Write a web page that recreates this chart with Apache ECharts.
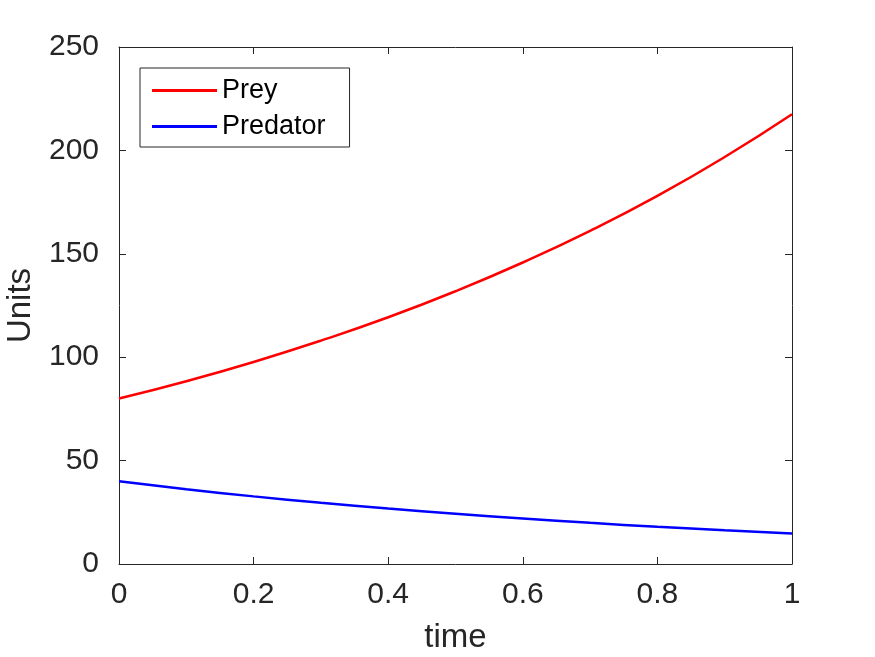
<!DOCTYPE html>
<html>
<head>
<meta charset="utf-8">
<script src="https://cdn.jsdelivr.net/npm/echarts@6/dist/echarts.min.js"></script>
<style>
  html, body { margin: 0; padding: 0; background: #fff; }
  #main { width: 875px; height: 657px; }
</style>
</head>
<body>
<div id="main"></div>
<script>
// values
var times = [0, 0.1, 0.2, 0.3, 0.4, 0.5, 0.6, 0.7, 0.8, 0.9, 1.0];
var prey = [80, 88.4, 97.7, 108, 119.3, 131.9, 145.8, 161.1, 178, 196.8, 217.5];
var predator = [40, 36.2, 32.7, 29.6, 26.8, 24.3, 22, 19.9, 18, 16.3, 14.7];
var seriesNames = ['Prey', 'Predator'];

var axisColor = '#262626';
var font = 'Liberation Sans, Arial, Helvetica, sans-serif';

var pairs = function (xs, ys) {
    var out = [];
    for (var i = 0; i < xs.length; i++) {
        out.push([xs[i], ys[i]]);
    }
    return out;
};

var boxAxis = function (pos, min, max, interval, showLabels) {
    return {
        type: 'value',
        position: pos,
        min: min,
        max: max,
        interval: interval,
        axisLine: { show: true, onZero: false, lineStyle: { color: axisColor, width: 1 } },
        axisTick: { show: true, inside: true, length: 7, lineStyle: { color: axisColor } },
        axisLabel: {
            show: showLabels,
            color: axisColor,
            fontFamily: font,
            fontSize: 30,
            margin: pos === 'bottom' ? 16 : 20,
            showMinLabel: true,
            showMaxLabel: true
        },
        splitLine: { show: false }
    };
};

var myChart = echarts.init(document.getElementById('main'));

var xBottom = boxAxis('bottom', 0, 1, 0.2, true);
xBottom.name = 'time';
xBottom.nameLocation = 'middle';
xBottom.nameGap = 57;
xBottom.nameTextStyle = { color: axisColor, fontFamily: font, fontSize: 33 };

var yLeft = boxAxis('left', 0, 250, 50, true);
yLeft.name = 'Units';
yLeft.nameLocation = 'middle';
yLeft.nameGap = 82;
yLeft.nameTextStyle = { color: axisColor, fontFamily: font, fontSize: 33 };

var option = {
    backgroundColor: '#fff',
    animation: false,
    grid: { left: 119, right: 83, top: 47, bottom: 93, containLabel: false, outerBoundsMode: 'none' },
    legend: {
        orient: 'vertical',
        left: 140,
        top: 68,
        padding: [9, 24, 7, 12],
        itemGap: 9,
        itemWidth: 65,
        itemHeight: 3,
        icon: 'rect',
        borderColor: axisColor,
        borderWidth: 1,
        borderRadius: 0,
        backgroundColor: '#fff',
        textStyle: { color: '#000', fontFamily: font, fontSize: 27, lineHeight: 27 },
        data: seriesNames
    },
    xAxis: [xBottom, boxAxis('top', 0, 1, 0.2, false)],
    yAxis: [yLeft, boxAxis('right', 0, 250, 50, false)],
    series: [{
        name: seriesNames[0],
        type: 'line',
        data: pairs(times, prey),
        smooth: true,
        showSymbol: false,
        symbol: 'none',
        color: '#ff0000',
        lineStyle: { color: '#ff0000', width: 2.5 }
    }, {
        name: seriesNames[1],
        type: 'line',
        data: pairs(times, predator),
        smooth: true,
        showSymbol: false,
        symbol: 'none',
        color: '#0000ff',
        lineStyle: { color: '#0000ff', width: 2.5 }
    }]
};

myChart.setOption(option);
</script>
</body>
</html>
